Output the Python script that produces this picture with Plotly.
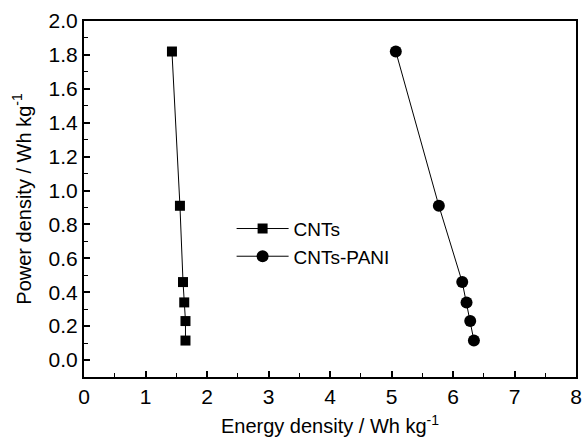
import plotly.graph_objects as go

power = [1.82, 0.91, 0.46, 0.34, 0.23, 0.115]
energy_cnts = [1.43, 1.56, 1.61, 1.63, 1.65, 1.65]
energy_pani = [5.07, 5.77, 6.15, 6.22, 6.28, 6.34]
series_names = ["CNTs", "CNTs-PANI"]

FONT = "Liberation Sans"

fig = go.Figure()
fig.add_trace(go.Scatter(x=energy_cnts, y=power, mode="lines+markers", name=series_names[0],
                         line=dict(color="black", width=1),
                         marker=dict(symbol="square", size=10, color="black")))
fig.add_trace(go.Scatter(x=energy_pani, y=power, mode="lines+markers", name=series_names[1],
                         line=dict(color="black", width=1),
                         marker=dict(symbol="circle", size=12, color="black")))

fig.update_layout(
    width=582, height=437,
    font=dict(family=FONT, size=20, color="black"),
    margin=dict(l=84, r=6, t=21, b=60),
    plot_bgcolor="white", paper_bgcolor="white",
    showlegend=True,
    xaxis=dict(range=[0, 8], dtick=1, tick0=0, automargin=False,
               showline=True, linecolor="black", linewidth=2, mirror=True,
               ticks="inside", ticklen=6, tickwidth=1.5, tickcolor="black",
               showgrid=False, zeroline=False,
               tickfont=dict(family=FONT, size=21, color="black"),
               minor=dict(ticks="inside", dtick=0.5, ticklen=4, tickcolor="black", tickwidth=1.2),
               title=dict(text="Energy density / Wh kg<sup>-1</sup>",
                          font=dict(family=FONT, size=20, color="black"))),
    yaxis=dict(range=[-0.1, 2.0], dtick=0.2, tick0=0, tickformat=".1f", automargin=False,
               showline=True, linecolor="black", linewidth=2, mirror=True,
               ticks="inside", ticklen=6, tickwidth=1.5, tickcolor="black",
               showgrid=False, zeroline=False,
               tickfont=dict(family=FONT, size=21, color="black"),
               minor=dict(ticks="inside", dtick=0.1, ticklen=4, tickcolor="black", tickwidth=1.2),
               title=dict(text="Power density / Wh kg<sup>-1</sup>", standoff=12,
                          font=dict(family=FONT, size=20, color="black"))),
    legend=dict(x=0.30, y=0.47, xanchor="left", yanchor="top",
                itemwidth=52,
                bgcolor="rgba(0,0,0,0)", tracegroupgap=0,
                font=dict(family=FONT, size=19, color="black")),
)

fig.write_html("out.html")
